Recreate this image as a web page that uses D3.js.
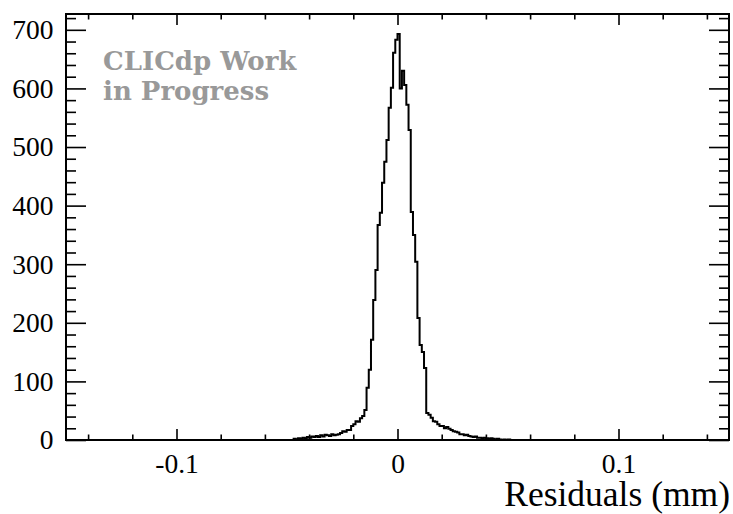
<!DOCTYPE html>
<html>
<head>
<meta charset="utf-8">
<script src="https://cdn.jsdelivr.net/npm/d3@7/dist/d3.min.js"></script>
<style>
  html, body { margin: 0; padding: 0; background: #ffffff; }
  svg { display: block; }
</style>
</head>
<body>
<svg id="chart" width="733" height="514"></svg>
<script>
// Histogram binning: 300 bins of 0.001 mm from -0.15 to 0.15
const binLow = -0.15;
const binHigh = 0.15;
const binWidth = 0.001;

// Entries per bin, left to right
const counts = [
  0,0,0,0,0,0,0,0,0,0,
  0,0,0,0,0,0,0,0,0,0,
  0,0,0,0,0,0,0,0,0,0,
  0,0,0,0,0,0,0,0,0,0,
  0,0,0,0,0,0,0,0,0,0,
  0,0,0,0,0,0,0,0,0,0,
  0,0,0,0,0,0,0,0,0,0,
  0,0,0,0,0,0,0,0,0,0,
  0,0,0,0,0,0,0,0,0,0,
  0,0,0,0,0,0,0,0,0,0,
  0,0,0,2,1,3,2,4,3,5,
  4,6,5,7,5,8,6,9,8,7,
  10,8,9,10,12,15,14,17,17,24,
  27,32,31,37,41,51,89,120,171,239,
  290,367,388,439,475,512,567,601,661,683,
  693,600,630,606,572,529,389,350,304,208,
  162,150,123,46,43,38,32,31,27,24,
  24,20,22,19,17,15,14,13,10,10,
  8,9,7,6,5,6,4,4,3,4,
  3,2,3,2,1,2,1,0,1,0,
  1,0,0,0,0,0,0,0,0,0,
  0,0,0,0,0,0,0,0,0,0,
  0,0,0,0,0,0,0,0,0,0,
  0,0,0,0,0,0,0,0,0,0,
  0,0,0,0,0,0,0,0,0,0,
  0,0,0,0,0,0,0,0,0,0,
  0,0,0,0,0,0,0,0,0,0,
  0,0,0,0,0,0,0,0,0,0,
  0,0,0,0,0,0,0,0,0,0,
  0,0,0,0,0,0,0,0,0,0
];

// Axis ticks and labels
const xMajorTicks = [-0.1, 0, 0.1];
const xTickLabels = ["-0.1", "0", "0.1"];
const xMinorTicks = [-0.14, -0.12, -0.08, -0.06, -0.04, -0.02, 0.02, 0.04, 0.06, 0.08, 0.12, 0.14];
const yMajorTicks = [0, 100, 200, 300, 400, 500, 600, 700];
const yMinorTicks = [20, 40, 60, 80, 120, 140, 160, 180, 220, 240, 260, 280, 320, 340, 360, 380,
                     420, 440, 460, 480, 520, 540, 560, 580, 620, 640, 660, 680, 720];
const yMax = 727;
const xTitle = "Residuals (mm)";
const stampLines = ["CLICdp Work", "in Progress"];

const frame = { left: 66, right: 729, top: 14, bottom: 440 };
const svg = d3.select("#chart");
const serif = '"Liberation Serif", "Times New Roman", serif';

const x = d3.scaleLinear().domain([binLow, binHigh]).range([frame.left, frame.right]);
const y = d3.scaleLinear().domain([0, yMax]).range([frame.bottom, frame.top]);

// Step outline of the histogram
const pts = [[binLow, 0]];
counts.forEach((c, i) => {
  const lo = binLow + i * binWidth;
  pts.push([lo, c], [lo + binWidth, c]);
});
pts.push([binHigh, 0]);

svg.append("path")
  .datum(pts)
  .attr("fill", "none")
  .attr("stroke", "#000")
  .attr("stroke-width", 2)
  .attr("stroke-linejoin", "miter")
  .attr("d", d3.line().x(d => x(d[0])).y(d => y(d[1])));

function styleAxis(g) {
  g.attr("font-family", null).attr("font-size", null);
  g.select(".domain").remove();
  g.selectAll("line").attr("stroke", "#000").attr("stroke-width", 1.6);
  g.selectAll("text").attr("fill", "#000")
    .style("font-family", serif).style("font-size", "27.5px");
}

// Bottom axis
svg.append("g").attr("transform", `translate(0,${frame.bottom})`)
  .call(d3.axisBottom(x).tickValues(xMajorTicks).tickSize(-11).tickPadding(13.5)
    .tickFormat((d, i) => xTickLabels[i]))
  .call(styleAxis);
svg.append("g").attr("transform", `translate(0,${frame.bottom})`)
  .call(d3.axisBottom(x).tickValues(xMinorTicks).tickSize(-5.5).tickFormat(""))
  .call(styleAxis);

// Top axis (ticks only)
svg.append("g").attr("transform", `translate(0,${frame.top})`)
  .call(d3.axisTop(x).tickValues(xMajorTicks).tickSize(-11).tickFormat(""))
  .call(styleAxis);
svg.append("g").attr("transform", `translate(0,${frame.top})`)
  .call(d3.axisTop(x).tickValues(xMinorTicks).tickSize(-5.5).tickFormat(""))
  .call(styleAxis);

// Left axis
svg.append("g").attr("transform", `translate(${frame.left},0)`)
  .call(d3.axisLeft(y).tickValues(yMajorTicks).tickSize(-20).tickPadding(12.5)
    .tickFormat(d3.format("d")))
  .call(styleAxis);
svg.append("g").attr("transform", `translate(${frame.left},0)`)
  .call(d3.axisLeft(y).tickValues(yMinorTicks).tickSize(-10).tickFormat(""))
  .call(styleAxis);

// Right axis (ticks only)
svg.append("g").attr("transform", `translate(${frame.right},0)`)
  .call(d3.axisRight(y).tickValues(yMajorTicks).tickSize(-20).tickFormat(""))
  .call(styleAxis);
svg.append("g").attr("transform", `translate(${frame.right},0)`)
  .call(d3.axisRight(y).tickValues(yMinorTicks).tickSize(-10).tickFormat(""))
  .call(styleAxis);

// Frame
svg.append("rect")
  .attr("x", frame.left).attr("y", frame.top)
  .attr("width", frame.right - frame.left).attr("height", frame.bottom - frame.top)
  .attr("fill", "none").attr("stroke", "#000").attr("stroke-width", 2);

// Axis title
svg.append("text")
  .attr("x", frame.right + 1).attr("y", 506)
  .attr("text-anchor", "end")
  .style("font-family", serif).style("font-size", "35.5px")
  .attr("fill", "#000")
  .text(xTitle);

// Collaboration stamp
svg.append("g").selectAll("text").data(stampLines).join("text")
  .attr("x", 103).attr("y", (d, i) => 70 + i * 30)
  .style("font-family", '"DejaVu Serif", serif').attr("font-weight", "bold")
  .style("font-size", "26px").attr("fill", "#999999")
  .text(d => d);
</script>
</body>
</html>
